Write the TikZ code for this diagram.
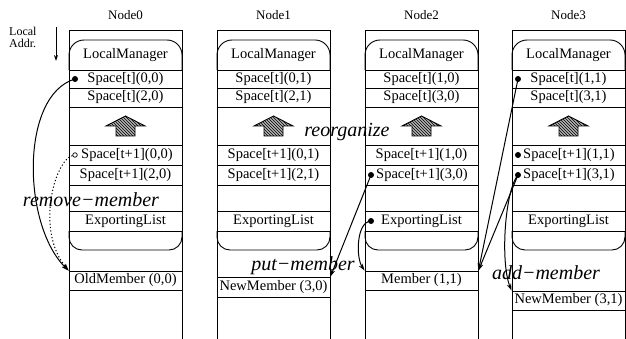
\documentclass[tikz,border=0pt]{standalone}
\usepackage{fontspec}
\setmainfont{Liberation Serif}
\usetikzlibrary{arrows.meta,patterns}
\tikzset{
  frame/.style={line width=0.9pt},
  lbl/.style={font=\fontsize{14.5}{16}\selectfont, inner sep=0pt},
  ttl/.style={font=\fontsize{13}{15}\selectfont, inner sep=0pt},
  oplbl/.style={font=\fontsize{20}{22}\selectfont\itshape, inner sep=0pt},
  mrow/.style={draw, line width=0.9pt, minimum width=113pt, minimum height=19pt, inner sep=0pt, font=\fontsize{14.5}{16}\selectfont},
  fdot/.style={circle, fill, inner sep=0pt, minimum size=6pt},
  odot/.style={circle, draw, line width=0.7pt, inner sep=0pt, minimum size=4.5pt},
  conn/.style={-{Stealth[length=7pt,width=4.5pt]}, line width=1pt},
  harrow/.style={draw, line width=0.9pt, fill=gray!60, postaction={pattern=north west lines}}
}
\begin{document}
\begin{tikzpicture}[x=1pt,y=-1pt]
\useasboundingbox (0,0) rectangle (626,339);
% columns
\foreach \L in {69,217,365,512}{
  \draw[frame] (\L,339) -- (\L,30) -- (\L+113,30) -- (\L+113,339);
  \draw[frame, rounded corners=15pt] (\L,70) -- (\L,40) -- (\L+113,40) -- (\L+113,70);
  \foreach \y in {70,88,107,145,165,185,211,231}
    \draw[frame] (\L,\y) -- (\L+113,\y);
  \draw[frame, rounded corners=13pt] (\L,231) -- (\L,250) -- (\L+113,250) -- (\L+113,231);
  \draw[harrow] (\L+56.5,116) -- (\L+76,126) -- (\L+66,126) -- (\L+66,136)
     -- (\L+47,136) -- (\L+47,126) -- (\L+37,126) -- cycle;
}
% titles
\node[ttl] (t0) at (125.5,15) {Node0};
\node[ttl] (t1) at (273.5,15) {Node1};
\node[ttl] (t2) at (421.5,15) {Node2};
\node[ttl] (t3) at (568.5,15) {Node3};
% local address
\node[font=\fontsize{12}{12}\selectfont, align=left, anchor=north west, inner sep=0pt] (la) at (9,27) {Local\\Addr.};
\coordinate (la1) at (56,27);
\coordinate (la2) at (56,61);
\draw[-{Stealth[length=6pt,width=4pt]}, line width=0.9pt] (la1) -- (la2);
% row texts
\foreach \c/\M in {0/125.5,1/273.5,2/421.5,3/568.5}{
  \node[lbl] (lm\c) at (\M,55) {LocalManager};
  \node[lbl] (ex\c) at (\M,221) {ExportingList};
}
\node[lbl] (sa0) at (125.5,79) {Space[t](0,0)};
\node[lbl] (sb0) at (125.5,97.5) {Space[t](2,0)};
\node[lbl] (sc0) at (127,155) {Space[t+1](0,0)};
\node[lbl] (sd0) at (125.5,175) {Space[t+1](2,0)};
\node[lbl] (sa1) at (273.5,79) {Space[t](0,1)};
\node[lbl] (sb1) at (273.5,97.5) {Space[t](2,1)};
\node[lbl] (sc1) at (273.5,155) {Space[t+1](0,1)};
\node[lbl] (sd1) at (273.5,175) {Space[t+1](2,1)};
\node[lbl] (sa2) at (421.5,79) {Space[t](1,0)};
\node[lbl] (sb2) at (421.5,97.5) {Space[t](3,0)};
\node[lbl] (sc2) at (421.5,155) {Space[t+1](1,0)};
\node[lbl] (sd2) at (422,175) {Space[t+1](3,0)};
\node[lbl] (sa3) at (568.5,79) {Space[t](1,1)};
\node[lbl] (sb3) at (568.5,97.5) {Space[t](3,1)};
\node[lbl] (sc3) at (569,155) {Space[t+1](1,1)};
\node[lbl] (sd3) at (569,175) {Space[t+1](3,1)};
% member rows
\node[mrow] (om0) at (125.5,280.5) {OldMember (0,0)};
\node[mrow, minimum height=20pt] (nm1) at (273.5,287) {NewMember (3,0)};
\node[mrow] (mem2) at (421.5,280.5) {Member (1,1)};
\node[mrow] (nm3) at (568.5,300.5) {NewMember (3,1)};
% markers
\node[fdot] (d00) at (75,79) {};
\node[odot] (o00) at (75,155) {};
\node[fdot] (d23) at (371,175) {};
\node[fdot] (d2e) at (371,221) {};
\node[fdot] (d30) at (518,79) {};
\node[fdot] (d31) at (518,155) {};
\node[fdot] (d33) at (518,175) {};
% connectors
\draw[conn] (d00.center) .. controls (20,95) and (22,225) .. (om0.north west);
\draw[conn, dash pattern=on 1.2pt off 2.2pt] (o00) .. controls (55,160) and (35,230) .. (om0.north west);
\draw[conn] (d23.center) -- (nm1.north east);
\draw[conn] (d2e.center) .. controls (356,222) and (356,258) .. (mem2.north west);
\draw[conn] (d30.center) -- (mem2.north east);
\draw[conn] (d33.center) -- (mem2.north east);
\draw[conn] (d33.center) .. controls (505,190) and (500,262) .. (nm3.north west);
% operation labels
\node[oplbl] (reorg) at (347,132) {reorganize};
\node[oplbl] (remove) at (91,200) {remove−member};
\node[oplbl] (put) at (303,266) {put−member};
\node[oplbl] (add) at (546,273) {add−member};
\end{tikzpicture}
\end{document}
